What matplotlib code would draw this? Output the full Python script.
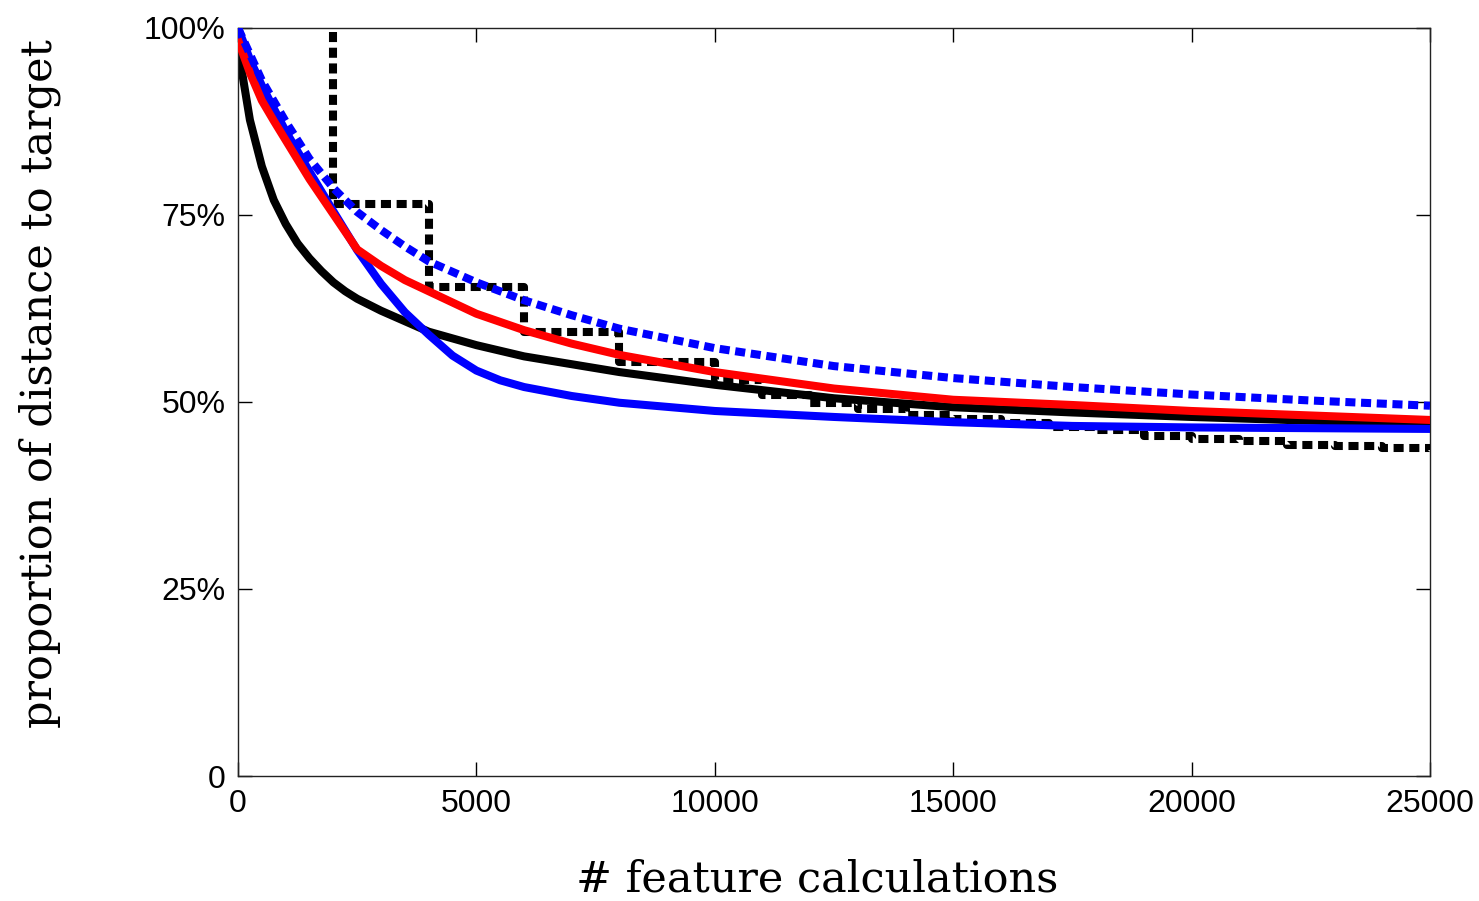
import matplotlib
matplotlib.use("Agg")
import matplotlib.pyplot as plt

# smooth curves, values in % of distance to target
black_x = [0, 100, 250, 500, 750, 1000, 1250, 1500, 1750, 2000, 2250, 2500, 3000, 4000, 5000,
           6000, 8000, 10000, 12500, 15000, 17500, 20000, 22500, 25000]
black_y = [97.0, 93.5, 87.7, 81.5, 77.0, 73.8, 71.2, 69.2, 67.5, 66.0, 64.8, 63.8, 62.2, 59.4,
           57.6, 56.1, 54, 52.3, 50.5, 49.3, 48.6, 48.0, 47.5, 47.1]

red_x = [0, 250, 500, 750, 1000, 1250, 1500, 2000, 2500, 3000, 3500, 4000, 5000, 6000,
         7000, 8000, 10000, 12500, 15000, 17500, 20000, 22500, 25000]
red_y = [98.4, 94.0, 90.3, 87.6, 85.0, 82.4, 79.8, 75.1, 70.4, 68.2, 66.3, 64.8, 61.8, 59.6,
         57.8, 56.3, 54, 51.8, 50.3, 49.6, 48.8, 48.2, 47.6]

blue_x = [0, 250, 500, 1000, 1500, 2000, 2500, 3000, 3500, 4000, 4500, 5000, 5500, 6000,
          7000, 8000, 10000, 12500, 15000, 17500, 20000, 22500, 25000]
blue_y = [100, 95.8, 92.3, 86.2, 80.8, 75.5, 70.3, 65.8, 62, 59, 56.2, 54.2, 52.9, 52,
          50.8, 49.9, 48.8, 48, 47.3, 46.8, 46.6, 46.5, 46.4]

blue_dash_x = [0, 500, 1000, 1500, 2000, 2500, 3000, 3500, 4000, 5000, 6000, 7000, 8000,
               10000, 12500, 15000, 17500, 20000, 22500, 25000]
blue_dash_y = [100, 93, 87.5, 82.5, 78.6, 75.4, 73.0, 70.8, 68.8, 66, 63.6, 61.6, 59.8,
               57.2, 54.8, 53.2, 52, 51, 50.2, 49.5]

# step curve (levels hold until next x)
step_x = [2000, 2000, 4000, 6000, 8000, 10000, 11000, 12000, 13000, 14000, 15000, 16000,
          17000, 18000, 19000, 20000, 21000, 22000, 23000, 24000, 25000]
step_y = [99.5, 76.5, 65.4, 59.4, 55.4, 53.0, 51.0, 49.9, 49.1, 48.3, 47.7, 47.2,
          46.6, 46.2, 45.5, 45.0, 44.8, 44.3, 44.1, 43.8, 43.6]

yticks = [0, 25, 50, 75, 100]
ytick_labels = ["0", "25%", "50%", "75%", "100%"]
xticks = [0, 5000, 10000, 15000, 20000, 25000]

fig = plt.figure(figsize=(14.79, 9.01), dpi=100)
ax = fig.add_axes([238 / 1479, 1 - 776 / 901, 1192 / 1479, 748 / 901])

lw = 5.8
dash = (0, (1.25, 0.7))
ax.plot(black_x, black_y, color="black", lw=lw, zorder=2)
ax.plot(step_x, step_y, color="black", lw=lw, ls=dash,
        drawstyle="steps-post", zorder=3)
ax.plot(blue_x, blue_y, color="#0000ff", lw=lw, zorder=4)
ax.plot(red_x, red_y, color="#ff0000", lw=lw, zorder=5)
ax.plot(blue_dash_x, blue_dash_y, color="#0000ff", lw=lw, ls=dash, zorder=6)

ax.set_xlim(0, 25000)
ax.set_ylim(0, 100)
ax.set_xticks(xticks)
ax.set_xticklabels([str(v) for v in xticks])
ax.set_yticks(yticks)
ax.set_yticklabels(ytick_labels)
ax.tick_params(direction="in", length=10, width=1, top=True, right=True,
               labelsize=23, pad=9)
for lab in ax.get_xticklabels() + ax.get_yticklabels():
    lab.set_family("Liberation Sans")
for s in ax.spines.values():
    s.set_linewidth(1)
    s.set_color("#222222")

fig.text(817 / 1479, 1 - 880 / 901, "# feature calculations", family="DejaVu Serif",
         fontsize=31, ha="center", va="center")
fig.text(40 / 1479, 1 - 384 / 901, "proportion of distance to target", family="DejaVu Serif",
         fontsize=31, ha="center", va="center", rotation=90)

fig.savefig("out.png", dpi=100)
